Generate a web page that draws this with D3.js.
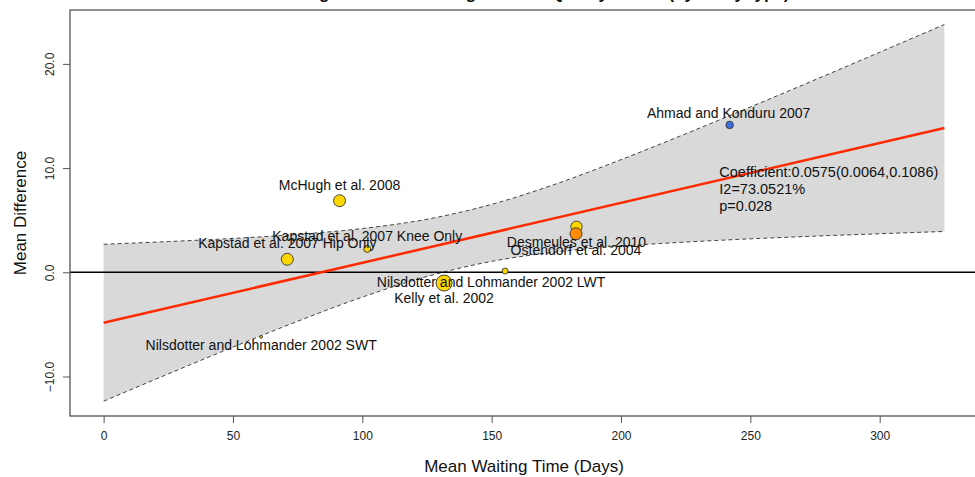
<!DOCTYPE html>
<html>
<head>
<meta charset="utf-8">
<script src="https://cdn.jsdelivr.net/npm/d3@7"></script>
<style>
  html, body { margin: 0; padding: 0; background: #fff; }
  svg { display: block; font-family: "Liberation Sans", Arial, Helvetica, sans-serif; }
</style>
</head>
<body>
<svg id="chart" width="975" height="477"></svg>
<script>
// ---------------- DATA ----------------
const studies = [
  "Ahmad and Konduru 2007",
  "McHugh et al. 2008",
  "Kapstad et al. 2007 Knee Only",
  "Kapstad et al. 2007 Hip Only",
  "Desmeules et al. 2010",
  "Ostendorf et al. 2004",
  "Kelly et al. 2002",
  "Nilsdotter and Lohmander 2002 LWT",
  "Nilsdotter and Lohmander 2002 SWT"
];
const waitDays  = [242.0, 91.2, 101.9, 71.0, 182.8, 182.6, 131.6, 155.2, 60.9];
const meanDiff  = [14.14, 6.87, 2.24, 1.25, 4.37, 3.70, -1.03, 0.12, -6.20];
const weights   = [14, 36, 12, 36, 32, 36, 64, 9, 2];
const groups    = ["blue", "yellow", "yellow", "yellow", "yellow", "orange", "yellow", "yellow", "yellow"];

// Meta-regression model output
const intercept = -4.84;
const slope = 0.0575;
// confidence band (x in days, lower / upper mean difference)
const bandX     = [0, 25, 50, 75, 100, 125, 150, 175, 200, 225, 250, 275, 300, 325];
const bandLower = [-12.37, -9.75, -7.18, -4.70, -2.38, -0.40, 1.05, 1.95, 2.51, 2.90, 3.21, 3.47, 3.70, 3.92];
const bandUpper = [2.69, 2.95, 3.25, 3.64, 4.20, 5.09, 6.52, 8.49, 10.81, 13.29, 15.86, 18.47, 21.12, 23.78];

const xTicks = [0, 50, 100, 150, 200, 250, 300];
const yTicks = [-10, 0, 10, 20];
const statsLines = ["Coefficient:0.0575(0.0064,0.1086)", "I2=73.0521%", "p=0.028"];
const titleText = "Meta-regression of Waiting Time on Quality of Life (by study type)";
const xTitle = "Mean Waiting Time (Days)";
const yTitle = "Mean Difference";

// ---------------- LAYOUT ----------------
const svg = d3.select("#chart");
const plot = { left: 70, right: 978, top: 10, bottom: 416 };

const x = d3.scaleLinear().domain([-13, 338]).range([plot.left, plot.right]);
const y = d3.scaleLinear().domain([-13.79, 25.17]).range([plot.bottom, plot.top]);
const r = d3.scaleSqrt().domain([0, 64]).range([0, 8]);
const color = d3.scaleOrdinal()
  .domain(["yellow", "orange", "blue"])
  .range(["#FFD700", "#FF8C00", "#3F6FE8"]);

// label nudges in pixels (text centre / baseline relative to the point)
const labelNudge = [
  [-1, -7], [0, -11], [0, -8], [0, -11], [0, 20], [0, 21], [0, 20], [-14, 16], [0, 13]
];

svg.append("defs").append("clipPath").attr("id", "clip")
  .append("rect")
  .attr("x", plot.left).attr("y", plot.top)
  .attr("width", plot.right - plot.left).attr("height", plot.bottom - plot.top);

const g = svg.append("g").attr("clip-path", "url(#clip)");

// confidence band
const bandData = bandX.map((d, i) => ({ x: d, lo: bandLower[i], hi: bandUpper[i] }));
g.append("path")
  .datum(bandData)
  .attr("fill", "#D9D9D9")
  .attr("d", d3.area().curve(d3.curveMonotoneX)
    .x(d => x(d.x)).y0(d => y(d.lo)).y1(d => y(d.hi)));

["lo", "hi"].forEach(k => {
  g.append("path")
    .datum(bandData)
    .attr("fill", "none")
    .attr("stroke", "#444")
    .attr("stroke-width", 1)
    .attr("stroke-dasharray", "4,3")
    .attr("d", d3.line().curve(d3.curveMonotoneX).x(d => x(d.x)).y(d => y(d[k])));
});

// zero line
g.append("line")
  .attr("x1", plot.left).attr("x2", plot.right)
  .attr("y1", y(0)).attr("y2", y(0))
  .attr("stroke", "#000").attr("stroke-width", 1.5);

// regression line
const regX = [bandX[0], bandX[bandX.length - 1]];
g.append("line")
  .attr("x1", x(regX[0])).attr("y1", y(intercept + slope * regX[0]))
  .attr("x2", x(regX[1])).attr("y2", y(intercept + slope * regX[1]))
  .attr("stroke", "#FF2A00").attr("stroke-width", 2.5);

// points
const pts = studies.map((s, i) => ({ s, x: waitDays[i], y: meanDiff[i], w: weights[i], grp: groups[i], i }));
g.selectAll("circle.pt")
  .data(pts)
  .join("circle")
  .attr("class", "pt")
  .attr("cx", d => x(d.x))
  .attr("cy", d => y(d.y))
  .attr("r", d => r(d.w))
  .attr("fill", d => color(d.grp))
  .attr("stroke", "#333")
  .attr("stroke-width", 0.9);

// labels
g.selectAll("text.lab")
  .data(pts)
  .join("text")
  .attr("class", "lab")
  .attr("x", d => x(d.x) + labelNudge[d.i][0])
  .attr("y", d => y(d.y) + labelNudge[d.i][1])
  .attr("text-anchor", "middle")
  .attr("font-size", 14)
  .attr("fill", "#111")
  .text(d => d.s);

// stats text
svg.append("g").selectAll("text")
  .data(statsLines)
  .join("text")
  .attr("x", x(238))
  .attr("y", (d, i) => y(9.15) + i * 17)
  .attr("font-size", 14.5)
  .attr("fill", "#111")
  .text(d => d);

// frame
svg.append("rect")
  .attr("x", plot.left).attr("y", plot.top)
  .attr("width", plot.right - plot.left).attr("height", plot.bottom - plot.top)
  .attr("fill", "none").attr("stroke", "#555").attr("stroke-width", 1.3);

// x axis
const xAxis = svg.append("g")
  .attr("transform", `translate(0,${plot.bottom})`)
  .call(d3.axisBottom(x).tickValues(xTicks).tickSize(7).tickPadding(8).tickFormat(d3.format("d")));
xAxis.select(".domain").remove();
xAxis.selectAll("line").attr("stroke", "#555");
xAxis.selectAll("text").attr("font-size", 12).attr("font-family", "Liberation Sans, Arial, sans-serif").attr("fill", "#222");

// y axis
const yAxis = svg.append("g")
  .attr("transform", `translate(${plot.left},0)`)
  .call(d3.axisLeft(y).tickValues(yTicks).tickSize(7).tickFormat(d3.format(".1f")));
yAxis.select(".domain").remove();
yAxis.selectAll("line").attr("stroke", "#555");
yAxis.selectAll("text")
  .attr("font-size", 12)
  .attr("font-family", "Liberation Sans, Arial, sans-serif")
  .attr("fill", "#222")
  .attr("text-anchor", "middle")
  .attr("x", 0).attr("dy", 0)
  .attr("transform", "translate(-16,0) rotate(-90)");

// axis titles
svg.append("text")
  .attr("x", (plot.left + plot.right) / 2)
  .attr("y", 472)
  .attr("text-anchor", "middle")
  .attr("font-size", 17)
  .attr("fill", "#111")
  .text(xTitle);

svg.append("text")
  .attr("transform", `translate(26,${(plot.top + plot.bottom) / 2}) rotate(-90)`)
  .attr("text-anchor", "middle")
  .attr("font-size", 17)
  .attr("fill", "#111")
  .text(yTitle);

// title (cut off at the top, as in the reference: only descenders show)
svg.append("text")
  .attr("x", (plot.left + plot.right) / 2)
  .attr("y", -1)
  .attr("text-anchor", "middle")
  .attr("font-size", 17)
  .attr("font-weight", "bold")
  .attr("fill", "#111")
  .text(titleText);
</script>
</body>
</html>
